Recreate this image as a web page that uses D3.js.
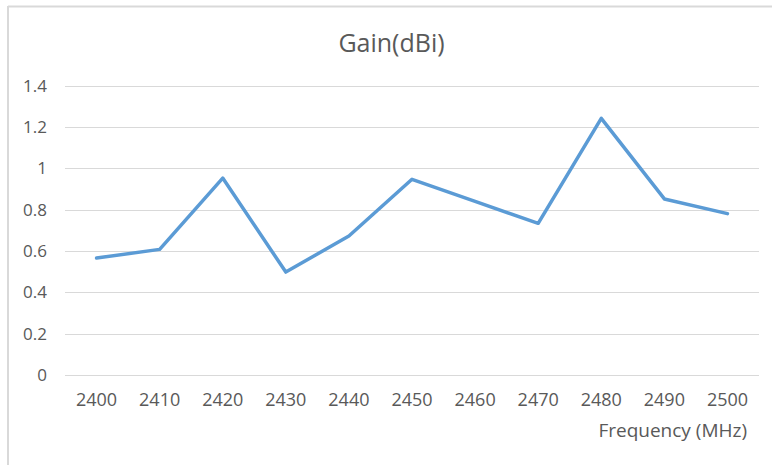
<!DOCTYPE html>
<html><head><meta charset="utf-8">
<script src="https://cdn.jsdelivr.net/npm/d3@7"></script>
<style>
body{margin:0;background:#fff;}
text{font-family:"Open Sans",sans-serif;fill:#595959;}
</style></head>
<body><svg id="c" width="772" height="465"></svg>
<script>
const categories = ["2400","2410","2420","2430","2440","2450","2460","2470","2480","2490","2500"];
const gain = [0.566, 0.608, 0.953, 0.498, 0.673, 0.947, 0.84, 0.734, 1.242, 0.852, 0.781];
const yTicks = [0, 0.2, 0.4, 0.6, 0.8, 1, 1.2, 1.4];
const title = "Gain(dBi)";
const xTitle = "Frequency (MHz)";

(function(){
const svg = d3.select("#c");
svg.append("line").attr("x1",8).attr("x2",772).attr("y1",6.5).attr("y2",6.5).attr("stroke","#d9d9d9").attr("stroke-width",2);
svg.append("line").attr("x1",8).attr("x2",8).attr("y1",6).attr("y2",465).attr("stroke","#d9d9d9").attr("stroke-width",2);

const pLeft=65, pRight=759, pTop=85.7, pBottom=375;
const x = d3.scaleBand().domain(categories).range([pLeft,pRight]);
const y = d3.scaleLinear().domain([0,1.4]).range([pBottom,pTop]);

const grid = svg.append("g");
grid.selectAll("line").data(yTicks).join("line")
  .attr("x1",pLeft).attr("x2",pRight)
  .attr("y1",d=>Math.round(y(d))+0.5).attr("y2",d=>Math.round(y(d))+0.5)
  .attr("stroke","#d9d9d9").attr("stroke-width",1);

const yAxis = svg.append("g").attr("transform",`translate(${pLeft},0)`)
  .call(d3.axisLeft(y).tickValues(yTicks).tickSize(0).tickPadding(18).tickFormat(d=>String(d)));
yAxis.select(".domain").remove();
yAxis.selectAll("text").style("font-size","17px").attr("fill","#595959");

const xAxis = svg.append("g").attr("transform",`translate(0,${pBottom})`)
  .call(d3.axisBottom(x).tickSize(0));
xAxis.select(".domain").remove();
xAxis.selectAll("text").style("font-size","18px").attr("fill","#595959").attr("y",31).attr("dy",0);

const line = d3.line().x((d,i)=>x(categories[i])+x.bandwidth()/2).y(d=>y(d));
svg.append("path").datum(gain).attr("d",line)
  .attr("fill","none").attr("stroke","#5b9bd5").attr("stroke-width",3.5)
  .attr("stroke-linejoin","round").attr("stroke-linecap","round");

svg.append("text").attr("x",391.5).attr("y",52).attr("text-anchor","middle")
  .style("font-size","25px").text(title);
svg.append("text").attr("x",747).attr("y",437).attr("text-anchor","end")
  .style("font-size","19px").text(xTitle);
})();
</script></body></html>
